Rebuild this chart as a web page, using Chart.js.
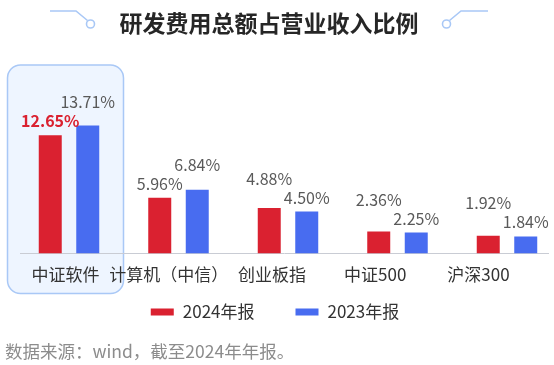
<!DOCTYPE html>
<html><head><meta charset="utf-8">
<script src="https://cdn.jsdelivr.net/npm/chart.js@4.4.1/dist/chart.umd.min.js"></script>
<style>html,body{margin:0;padding:0;background:#fff;}#wrap{width:554px;height:365px;position:relative;}</style>
</head><body><div id="wrap"><canvas id="c" width="554" height="365"></canvas></div>
<script>
const titleText = '研发费用总额占营业收入比例';
const footerText = '数据来源：wind，截至2024年年报。';
const categories = ['中证软件', '计算机（中信）', '创业板指', '中证500', '沪深300'];
const seriesNames = ['2024年报', '2023年报'];
const series2024 = [12.65, 5.96, 4.88, 2.36, 1.92];
const series2023 = [13.71, 6.84, 4.50, 2.25, 1.84];
const highlightIndex = 0;

const FONT = '"Noto Sans CJK SC", "Noto Sans", sans-serif';
const RED = '#DA2130';
const BLUE = '#486CF0';

const decoPlugin = {
  id: 'deco',
  beforeDraw(chart) {
    const ctx = chart.ctx;
    const xl = chart.scales.xl;
    const ca = chart.chartArea;
    const c = xl.getPixelForValue(highlightIndex);
    const left = c - 58, right = c + 58, top = ca.top - 39, bottom = ca.bottom + 40;
    ctx.save();
    ctx.beginPath();
    ctx.roundRect(left, top, right - left, bottom - top, 13);
    ctx.fillStyle = '#EEF5FF';
    ctx.fill();
    ctx.lineWidth = 1.5;
    ctx.strokeStyle = '#A9C8F6';
    ctx.stroke();
    ctx.restore();
  },
  afterDatasetsDraw(chart) {
    const ctx = chart.ctx;
    const m0 = chart.getDatasetMeta(0), m1 = chart.getDatasetMeta(1);
    const d0 = chart.data.datasets[0].data, d1 = chart.data.datasets[1].data;
    ctx.save();
    ctx.textAlign = 'center';
    ctx.textBaseline = 'middle';
    for (let i = 0; i < m0.data.length; i++) {
      const b0 = m0.data[i], b1 = m1.data[i];
      let y0 = b0.y - 14, y1 = b1.y - 14;
      if (b1.y < b0.y) y1 = Math.min(y1, y0 - 19); else y0 = Math.min(y0, y1 - 19);
      const hi = i === highlightIndex;
      ctx.font = (hi ? 'bold ' : '') + '16px ' + FONT;
      ctx.fillStyle = hi ? RED : '#595959';
      ctx.fillText(d0[i].y.toFixed(2) + '%', b0.x, y0);
      ctx.font = '16px ' + FONT;
      ctx.fillStyle = '#595959';
      ctx.fillText(d1[i].y.toFixed(2) + '%', b1.x, y1);
    }
    ctx.restore();
  },
  afterDraw(chart) {
    const ctx = chart.ctx;
    ctx.save();
    ctx.font = 'bold 23px ' + FONT;
    ctx.fillStyle = '#262626';
    ctx.textAlign = 'center';
    ctx.textBaseline = 'middle';
    ctx.fillText(titleText, 269, 23);
    ctx.strokeStyle = '#A9C8F6';
    ctx.lineWidth = 1.6;
    ctx.beginPath();
    ctx.moveTo(50, 11); ctx.lineTo(76, 11); ctx.lineTo(87.5, 20.5);
    ctx.stroke();
    ctx.beginPath(); ctx.arc(90.5, 24, 4, 0, Math.PI * 2); ctx.stroke();
    ctx.beginPath();
    ctx.moveTo(449.5, 20.5); ctx.lineTo(461, 11); ctx.lineTo(488, 11);
    ctx.stroke();
    ctx.beginPath(); ctx.arc(446.5, 24, 4, 0, Math.PI * 2); ctx.stroke();
    ctx.font = '17px ' + FONT;
    const items = chart.data.datasets.map(d => ({ label: d.label, color: d.backgroundColor, w: ctx.measureText(d.label).width }));
    const sw = 23, sh = 7, gap = 9, itemGap = 41;
    let total = 0;
    items.forEach((it, k) => { total += sw + gap + it.w + (k ? itemGap : 0); });
    let x = 275 - total / 2;
    const cy = 312;
    ctx.textAlign = 'left';
    items.forEach(it => {
      ctx.fillStyle = it.color;
      ctx.fillRect(x, cy - sh / 2, sw, sh);
      ctx.fillStyle = '#333333';
      ctx.fillText(it.label, x + sw + gap, cy);
      x += sw + gap + it.w + itemGap;
    });
    ctx.font = '17.5px ' + FONT;
    ctx.fillStyle = '#8C8C8C';
    ctx.fillText(footerText, 5, 351);
    ctx.restore();
  }
};

new Chart(document.getElementById('c'), {
  type: 'bar',
  data: {
    datasets: [
      { label: seriesNames[0], data: series2024.map((v, i) => ({ x: i, y: v })), backgroundColor: RED, xAxisID: 'x', yAxisID: 'y' },
      { label: seriesNames[1], data: series2023.map((v, i) => ({ x: i, y: v })), backgroundColor: BLUE, xAxisID: 'x', yAxisID: 'y' }
    ]
  },
  options: {
    responsive: false,
    animation: false,
    events: [],
    layout: { padding: { top: 104, left: 20, right: 6, bottom: 69 } },
    datasets: { bar: { categoryPercentage: 0.685, barPercentage: 0.613 } },
    plugins: { legend: { display: false }, title: { display: false }, tooltip: { enabled: false } },
    scales: {
      x: {
        type: 'linear', display: false, min: -0.4475, max: 4.3745, offset: false,
        afterBuildTicks: s => { s.ticks = categories.map((_, i) => ({ value: i })); }
      },
      xl: {
        type: 'linear', position: 'bottom', min: -0.4407, max: 4.673, offset: false,
        grid: { display: false, drawTicks: false },
        border: { display: true, color: '#C9CCD4', width: 1 },
        afterBuildTicks: s => { s.ticks = categories.map((_, i) => ({ value: i })); },
        ticks: {
          padding: 11, autoSkip: false, maxRotation: 0, includeBounds: false,
          color: '#333333', font: { family: FONT, size: 17 },
          callback: v => categories[Math.round(v)] ?? ''
        }
      },
      y: { display: false, min: 0, max: 16 }
    }
  },
  plugins: [decoPlugin]
});
</script>
</body></html>
